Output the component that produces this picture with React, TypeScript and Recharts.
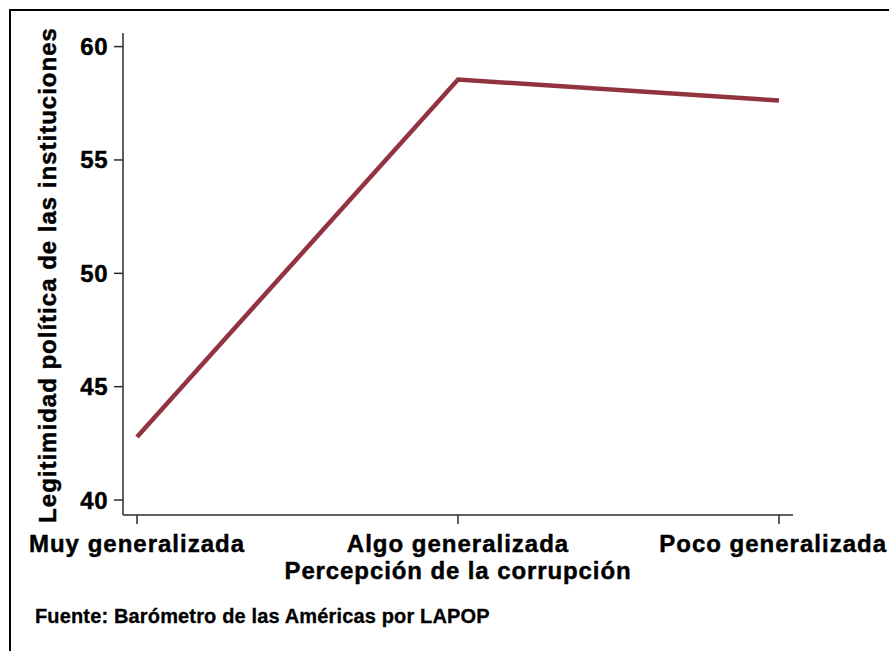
import React from "react";
import { Label, Line, LineChart, XAxis, YAxis } from "recharts";

const categories = ["Muy generalizada", "Algo generalizada", "Poco generalizada"];
const legitimacy = [42.78, 58.55, 57.62];
const yTicks = [40, 45, 50, 55, 60];

const data = categories.map((c, i) => ({ cat: c, value: legitimacy[i] }));

const FONT = "'Liberation Sans', Arial, Helvetica, sans-serif";
const AXIS = "#2b2b2b";
const heavy = { fontFamily: FONT, fontWeight: 700, fill: "#000", stroke: "#000", strokeWidth: 0.45 };

function YTitle(props: any) {
  const vb = props.viewBox;
  const cx = vb.x + 56;
  const cy = vb.y + vb.height / 2 + 1;
  return (
    <text
      x={cx}
      y={cy}
      transform={`rotate(-90 ${cx} ${cy})`}
      textAnchor="middle"
      fontSize={24}
      letterSpacing={1}
      {...heavy}
    >
      Legitimidad política de las instituciones
    </text>
  );
}

function XTitle(props: any) {
  const vb = props.viewBox;
  return (
    <g>
      <text x={vb.x + vb.width / 2} y={vb.y + 64} textAnchor="middle" fontSize={24} letterSpacing={0.9} {...heavy}>
        Percepción de la corrupción
      </text>
      <text x={35} y={vb.y + 108} fontSize={20} letterSpacing={0.15} {...heavy} strokeWidth={0.3}>
        Fuente: Barómetro de las Américas por LAPOP
      </text>
    </g>
  );
}

function XTick(props: any) {
  const { x, y, payload, index, visibleTicksCount } = props;
  const last = index === visibleTicksCount - 1;
  return (
    <text
      x={last ? 887 : x}
      y={y}
      dy={16}
      textAnchor={last ? "end" : "middle"}
      fontSize={24}
      letterSpacing={1}
      {...heavy}
    >
      {payload.value}
    </text>
  );
}

export default function App() {
  return (
    <div
      style={{
        position: "fixed",
        left: 0,
        top: 0,
        width: 889,
        height: 651,
        overflow: "hidden",
        background: "#fff",
      }}
    >
      <div
        style={{
          position: "absolute",
          left: 9,
          top: 9,
          width: 2000,
          height: 2000,
          border: "2.5px solid #000",
        }}
      />
      <div style={{ position: "absolute", left: 0, top: 0 }}>
        <LineChart width={889} height={651} data={data} margin={{ top: 33, right: 96, left: 0, bottom: 0 }}>
          <XAxis
            dataKey="cat"
            height={136}
            padding={{ left: 14, right: 14 }}
            tickSize={9}
            tickMargin={12}
            stroke={AXIS}
            strokeWidth={1.5}
            interval={0}
            tick={XTick}
          >
            <Label content={XTitle} />
          </XAxis>
          <YAxis
            type="number"
            width={123}
            domain={[39.34, 60.6]}
            allowDataOverflow
            ticks={yTicks}
            tickSize={9}
            tickMargin={6}
            stroke={AXIS}
            strokeWidth={1.5}
            tick={{ ...heavy, fontSize: 24, letterSpacing: 0.5 }}
          >
            <Label content={YTitle} />
          </YAxis>
          <Line
            type="linear"
            dataKey="value"
            stroke="#923440"
            strokeWidth={4.5}
            dot={false}
            activeDot={false}
            isAnimationActive={false}
          />
        </LineChart>
      </div>
    </div>
  );
}
